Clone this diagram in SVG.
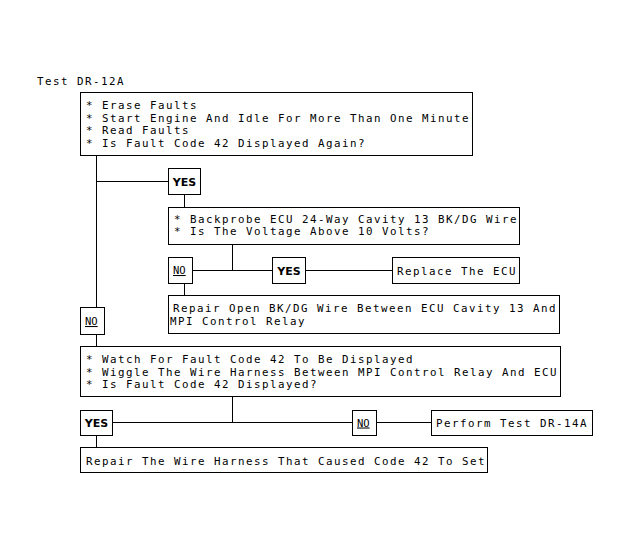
<svg xmlns="http://www.w3.org/2000/svg" width="631" height="549" viewBox="0 0 631 549">
<style>
.bx{fill:#fff;stroke:#000;stroke-width:1}
.t{font-family:"DejaVu Sans Mono",monospace;font-size:10.8px;letter-spacing:1.5px;fill:#000}
.y{font-family:"DejaVu Sans",sans-serif;font-size:11px;font-weight:bold;fill:#000;text-anchor:middle}
.n{font-family:"DejaVu Sans Mono",monospace;font-size:10.5px;fill:#000;text-decoration:underline}
.c{stroke:#000;stroke-width:1;fill:none}
</style>
<rect width="631" height="549" fill="#fff"/>
<text class="t" x="37" y="85">Test DR-12A</text>
<g id="connectors">
<path class="c" d="M96.5 156V307M96.5 334V347M96.5 181.5H168M184.5 194V207M232.5 245V270.5M192 270.5H272M305 270.5H392M184.5 283V295M232.5 397V422.5M112 422.5H352M376 422.5H431M96.5 436V448"/>
</g>
<g id="step1">
<rect class="bx" x="80.5" y="92.5" width="392" height="63"/>
<text class="t" x="86" y="109">* Erase Faults</text>
<text class="t" x="86" y="121.5">* Start Engine And Idle For More Than One Minute</text>
<text class="t" x="86" y="134">* Read Faults</text>
<text class="t" x="86" y="146.5">* Is Fault Code 42 Displayed Again?</text>
</g>
<g id="yes1">
<rect class="bx" x="168.5" y="168.5" width="32" height="26"/>
<text class="y" x="184.5" y="185.5">YES</text>
</g>
<g id="step2">
<rect class="bx" x="168.5" y="207.5" width="351" height="37"/>
<text class="t" x="174" y="222.5">* Backprobe ECU 24-Way Cavity 13 BK/DG Wire</text>
<text class="t" x="174" y="235">* Is The Voltage Above 10 Volts?</text>
</g>
<g id="no2">
<rect class="bx" x="168.5" y="257.5" width="24" height="26"/>
<text class="n" x="173" y="274">NO</text>
</g>
<g id="yes2">
<rect class="bx" x="272.5" y="257.5" width="33" height="26"/>
<text class="y" x="289" y="274.5">YES</text>
</g>
<g id="replace">
<rect class="bx" x="392.5" y="257.5" width="127" height="26"/>
<text class="t" x="397" y="274.5">Replace The ECU</text>
</g>
<g id="repair1">
<rect class="bx" x="168.5" y="295.5" width="391" height="38"/>
<text class="t" x="173" y="312">Repair Open BK/DG Wire Between ECU Cavity 13 And</text>
<text class="t" x="170" y="325">MPI Control Relay</text>
</g>
<g id="no1">
<rect class="bx" x="80.5" y="307.5" width="24" height="27"/>
<text class="n" x="85" y="325">NO</text>
</g>
<g id="step3">
<rect class="bx" x="80.5" y="346.5" width="480" height="50"/>
<text class="t" x="86" y="363">* Watch For Fault Code 42 To Be Displayed</text>
<text class="t" x="86" y="375.5">* Wiggle The Wire Harness Between MPI Control Relay And ECU</text>
<text class="t" x="86" y="388">* Is Fault Code 42 Displayed?</text>
</g>
<g id="yes3">
<rect class="bx" x="80.5" y="410.5" width="32" height="25"/>
<text class="y" x="96.5" y="427">YES</text>
</g>
<g id="no3">
<rect class="bx" x="352.5" y="410.5" width="24" height="25"/>
<text class="n" x="357" y="426.5">NO</text>
</g>
<g id="perform">
<rect class="bx" x="431.5" y="410.5" width="161" height="25"/>
<text class="t" x="436" y="427">Perform Test DR-14A</text>
</g>
<g id="repair2">
<rect class="bx" x="80.5" y="447.5" width="407" height="25"/>
<text class="t" x="86" y="465">Repair The Wire Harness That Caused Code 42 To Set</text>
</g>
</svg>
